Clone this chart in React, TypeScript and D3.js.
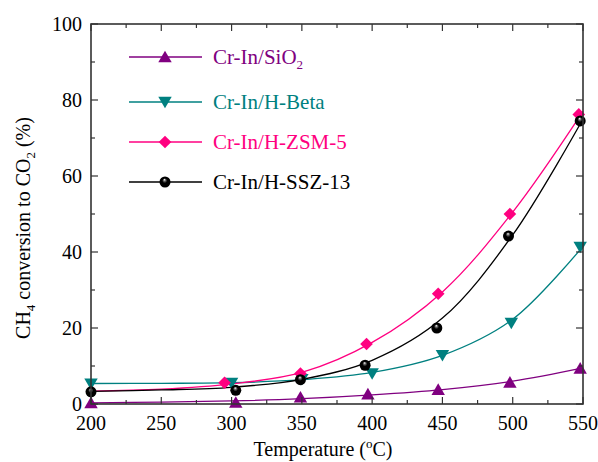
import * as d3 from 'd3';
import React, { useRef, useEffect } from 'react';

const width = 598;
const height = 462;
const margin = {top: 24, right: 15, bottom: 58, left: 91};

// measured points
const sio2Temp = [200, 303, 349, 397, 447, 498, 548];
const sio2Conv = [0.3, 0.4, 1.8, 2.6, 3.8, 5.7, 9.4];
const betaTemp = [200, 300, 350, 400, 450, 499, 548];
const betaConv = [5.3, 5.5, 6.5, 8.0, 12.8, 21.3, 41.3];
const zsmTemp = [295, 349, 396, 447, 498, 547];
const zsmConv = [5.6, 8.0, 15.8, 29, 50, 76.2];
const sszTemp = [200, 303, 349, 395, 446, 497, 548];
const sszConv = [3.2, 3.6, 6.4, 10.2, 20, 44.2, 74.5];

// fitted curves
const fitTemp = [200, 250, 300, 350, 400, 450, 500, 550];
const sio2Fit = [0.3, 0.5, 0.8, 1.4, 2.4, 3.8, 6.0, 9.5];
const betaFit = [5.4, 5.45, 5.6, 6.4, 8.3, 12.8, 22.3, 41.5];
const zsmFit = [3.4, 3.9, 5.3, 8.3, 16.2, 29.5, 50.5, 77];
const sszFit = [3.3, 3.7, 4.4, 6.5, 11.5, 22.6, 44.5, 75];

const xTicks = [200, 250, 300, 350, 400, 450, 500, 550];
const yTicks = [0, 20, 40, 60, 80, 100];

const series = [
    {name: "Cr-In/SiO", sub: "2", color: "#800080", marker: "up", temp: sio2Temp, conv: sio2Conv, fit: sio2Fit},
    {name: "Cr-In/H-Beta", sub: "", color: "#008080", marker: "down", temp: betaTemp, conv: betaConv, fit: betaFit},
    {name: "Cr-In/H-ZSM-5", sub: "", color: "#FF0080", marker: "diamond", temp: zsmTemp, conv: zsmConv, fit: zsmFit},
    {name: "Cr-In/H-SSZ-13", sub: "", color: "#000000", marker: "ball", temp: sszTemp, conv: sszConv, fit: sszFit},
];

const font = "'Liberation Serif', 'Times New Roman', serif";

function drawMarker(g, type, color, cx, cy) {
    if (type === "ball") {
        g.append("circle")
            .attr("cx", cx).attr("cy", cy).attr("r", 5.5)
            .attr("fill", "url(#ballGrad)");
        return;
    }
    const sym = type === "diamond" ? d3.symbol().type(d3.symbolSquare).size(80)
        : d3.symbol().type(d3.symbolTriangle).size(78);
    const rot = type === "diamond" ? 45 : type === "down" ? 180 : 0;
    const dy = type === "up" ? 1.5 : type === "down" ? -1.5 : 0;
    g.append("path")
        .attr("d", sym())
        .attr("transform", "translate(" + cx + "," + (cy + dy) + ") rotate(" + rot + ")")
        .attr("fill", color);
}

function Chart() {
    const ref = useRef(null);

    useEffect(() => {
        const svg = d3.select(ref.current);
        svg.selectAll("*").remove();

        const defs = svg.append("defs");
        const grad = defs.append("radialGradient").attr("id", "ballGrad")
            .attr("cx", "50%").attr("cy", "50%").attr("r", "50%")
            .attr("fx", "45%").attr("fy", "28%");
        grad.append("stop").attr("offset", "0%").attr("stop-color", "#ffffff");
        grad.append("stop").attr("offset", "22%").attr("stop-color", "#666666");
        grad.append("stop").attr("offset", "45%").attr("stop-color", "#000000");
        grad.append("stop").attr("offset", "100%").attr("stop-color", "#000000");

        const iw = width - margin.left - margin.right;
        const ih = height - margin.top - margin.bottom;

        const x = d3.scaleLinear().domain([200, 550]).range([margin.left, margin.left + iw]);
        const y = d3.scaleLinear().domain([0, 100]).range([margin.top + ih, margin.top]);

        const plot = svg.append("g");

        // curves
        series.forEach(s => {
            const line = d3.line()
                .x((d, i) => x(fitTemp[i]))
                .y(d => y(d))
                .curve(d3.curveCatmullRom.alpha(0.5));
            plot.append("path")
                .datum(s.fit)
                .attr("d", line)
                .attr("fill", "none")
                .attr("stroke", s.color)
                .attr("stroke-width", 1.3);
        });

        // markers
        series.forEach(s => {
            s.conv.forEach((v, i) => {
                drawMarker(plot, s.marker, s.color, x(s.temp[i]), y(v));
            });
        });

        // frame
        const axisColor = "#333";
        svg.append("rect")
            .attr("x", margin.left).attr("y", margin.top)
            .attr("width", iw).attr("height", ih)
            .attr("fill", "none").attr("stroke", axisColor).attr("stroke-width", 1.6);

        const tickG = svg.append("g").attr("stroke", axisColor).attr("stroke-width", 1.2);
        const xMinor = d3.range(200, 551, 25);
        xMinor.forEach(t => {
            const len = t % 50 === 0 ? 7 : 4;
            tickG.append("line").attr("x1", x(t)).attr("x2", x(t))
                .attr("y1", margin.top + ih).attr("y2", margin.top + ih - len);
            tickG.append("line").attr("x1", x(t)).attr("x2", x(t))
                .attr("y1", margin.top).attr("y2", margin.top + len);
        });
        const yMinor = d3.range(0, 101, 10);
        yMinor.forEach(t => {
            const len = t % 20 === 0 ? 7 : 4;
            tickG.append("line").attr("y1", y(t)).attr("y2", y(t))
                .attr("x1", margin.left).attr("x2", margin.left + len);
            tickG.append("line").attr("y1", y(t)).attr("y2", y(t))
                .attr("x1", margin.left + iw).attr("x2", margin.left + iw - len);
        });

        // tick labels
        svg.append("g").selectAll("text").data(xTicks).enter().append("text")
            .attr("x", d => x(d)).attr("y", margin.top + ih + 26)
            .attr("text-anchor", "middle")
            .style("font-family", font).style("font-size", "20px")
            .text(d => d);
        svg.append("g").selectAll("text").data(yTicks).enter().append("text")
            .attr("x", margin.left - 9).attr("y", d => y(d) + 7)
            .attr("text-anchor", "end")
            .style("font-family", font).style("font-size", "20px")
            .text(d => d);

        // axis titles
        const xt = svg.append("text")
            .attr("x", 323).attr("y", 456)
            .attr("text-anchor", "middle")
            .style("font-family", font).style("font-size", "20px");
        xt.append("tspan").text("Temperature (");
        xt.append("tspan").attr("dy", -8).style("font-size", "13px").text("o");
        xt.append("tspan").attr("dy", 8).text("C)");

        const yt = svg.append("text")
            .attr("transform", "translate(30,228) rotate(-90)")
            .attr("text-anchor", "middle")
            .style("font-family", font).style("font-size", "20px");
        yt.append("tspan").text("CH");
        yt.append("tspan").attr("dy", 5).style("font-size", "13px").text("4");
        yt.append("tspan").attr("dy", -5).text(" conversion to CO");
        yt.append("tspan").attr("dy", 5).style("font-size", "13px").text("2");
        yt.append("tspan").attr("dy", -5).text(" (%)");

        // legend
        const legendY = [57, 102, 142, 182];
        series.forEach((s, i) => {
            const ly = legendY[i];
            svg.append("line")
                .attr("x1", 129).attr("x2", 202).attr("y1", ly).attr("y2", ly)
                .attr("stroke", s.color).attr("stroke-width", 1.3);
            drawMarker(svg, s.marker, s.color, 165, ly);
            const t = svg.append("text")
                .attr("x", 213).attr("y", ly + 7)
                .attr("fill", s.color)
                .style("font-family", font).style("font-size", "21px");
            t.append("tspan").text(s.name);
            if (s.sub) {
                t.append("tspan").attr("dy", 5).style("font-size", "13px").text(s.sub);
            }
        });
    }, []);

    return (
        <svg ref={ref} width={width} height={height}
            style={{position: "absolute", left: 0, top: 0, background: "#fff"}} />
    );
}

export default function App() {
    return <Chart />;
}
